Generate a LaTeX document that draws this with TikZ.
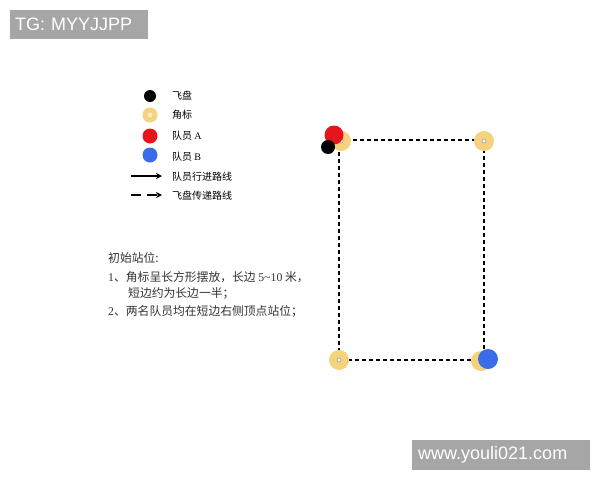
\documentclass[tikz,border=0pt]{standalone}
\usepackage{fontspec}
\setmainfont{Liberation Serif}
\newfontfamily\cjk{Noto Sans CJK SC}
\newfontfamily\wmfont{Liberation Sans}
\usetikzlibrary{arrows.meta}
\definecolor{conegold}{HTML}{F5D27C}
\definecolor{conelight}{HTML}{FBEBC0}
\definecolor{playerred}{HTML}{E8141B}
\definecolor{playerblue}{HTML}{3A6BE8}
\definecolor{markgray}{HTML}{A6A6A6}
\newcommand{\lat}[1]{{\rmfamily #1}}

\tikzset{
	disc/.style={circle, inner sep=0pt, minimum size=#1},
	cone/.style={disc=20pt, fill=conegold},
	legend text/.style={anchor=west, inner sep=0pt, font=\cjk\fontsize{10}{12}\selectfont},
	note text/.style={anchor=west, inner sep=0pt, font=\cjk\fontsize{11.8}{13}\selectfont, text=black!80},
	mark box/.style={anchor=north west, fill=markgray, text=white, inner xsep=5pt, inner ysep=0pt,
		minimum height=29pt, align=left, font=\wmfont\fontsize{18}{20}\selectfont},
	field line/.style={black, line width=1.2pt, dash pattern=on 4pt off 3pt},
}

\begin{document}
\begin{tikzpicture}[x=1pt, y=-1pt]
	\useasboundingbox (0,0) rectangle (600,480);

	% watermarks
	\node[mark box, text width=128pt] (tg) at (10,10) {TG: MYYJJPP};
	\node[mark box, text width=166pt, inner xsep=6pt, minimum height=30pt] (site) at (412,440) {www.youli021.com};

	% legend
	\node[disc=12pt, fill=black] (lgdisc) at (150,96) {};
	\node[disc=15pt, fill=conegold] (lgcone) at (150,115) {};
	\node[disc=5pt, fill=conelight] at (lgcone) {};
	\node[disc=15pt, fill=playerred] (lgred) at (150,136) {};
	\node[disc=15pt, fill=playerblue] (lgblue) at (150,155) {};
	\coordinate (runA) at (131,176);
	\coordinate (runB) at (162,176);
	\coordinate (passA) at (131,195);
	\coordinate (passB) at (162,195);
	\draw[line width=1.4pt, -{Stealth[length=6pt, width=6pt]}] (runA) -- (runB);
	\draw[line width=1.4pt, dash pattern=on 10pt off 6pt, -{Stealth[length=6pt, width=6pt]}] (passA) -- (passB);

	\node[legend text] (txdisc) at (172,96) {飞盘};
	\node[legend text] (txcone) at (172,115) {角标};
	\node[legend text] (txred) at (172,136) {队员 \lat{A}};
	\node[legend text] (txblue) at (172,157) {队员 \lat{B}};
	\node[legend text] (txrun) at (172,177) {队员行进路线};
	\node[legend text] (txpass) at (172,196) {飞盘传递路线};

	% setup notes
	\node[note text] (note0) at (108,258) {初始站位:};
	\node[note text] (note1) at (108,277) {\lat{1}、角标呈长方形摆放，长边 \lat{5\textasciitilde10} 米，};
	\node[note text] (note2) at (128,293) {短边约为长边一半；};
	\node[note text] (note3) at (108,311) {\lat{2}、两名队员均在短边右侧顶点站位；};

	% field
	\coordinate (tl) at (339,140);
	\coordinate (tr) at (484,140);
	\coordinate (br) at (484,360);
	\coordinate (bl) at (339,360);
	\draw[field line] (tl) -- (tr) -- (br) -- (bl) -- cycle;

	\foreach \c/\px/\py in {tl/341/141, tr/484/141, bl/339/360, br/481/361} {
		\node[cone] (cone-\c) at (\px,\py) {};
		\node[disc=4pt, fill=white, draw=black!40, line width=0.6pt] at (cone-\c) {};
	}
	\node[disc=19pt, fill=playerred] (red) at (334,135) {};
	\node[disc=14pt, fill=black] (disc) at (328,147) {};
	\node[disc=20pt, fill=playerblue] (blue) at (488,359) {};
\end{tikzpicture}
\end{document}
